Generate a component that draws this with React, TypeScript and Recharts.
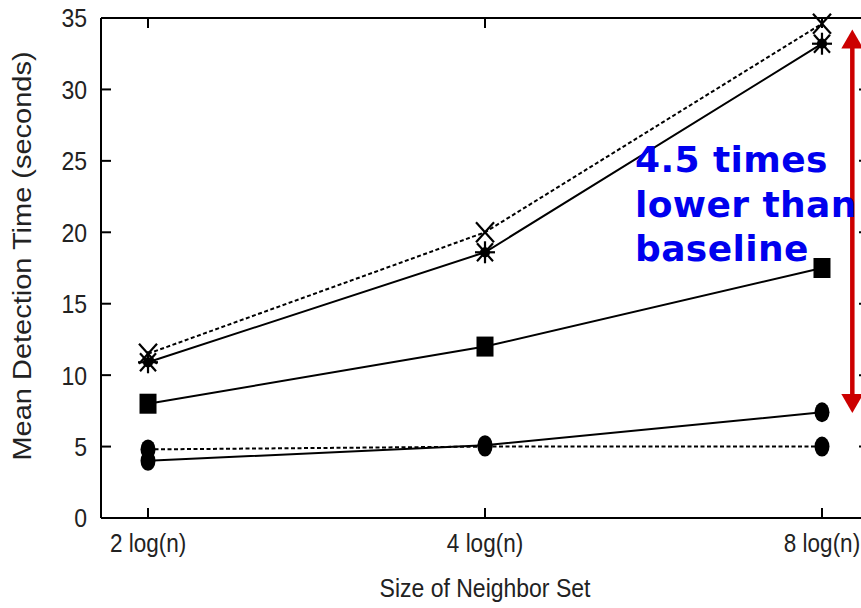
import { LineChart, Line, XAxis, YAxis, ReferenceLine } from "recharts"

const categories = ["2 log(n)", "4 log(n)", "8 log(n)"]
const baselineCross = [11.5, 20.0, 34.6]
const baselineStar = [10.9, 18.6, 33.2]
const squareSeries = [8.0, 12.0, 17.5]
const circleSolid = [4.0, 5.1, 7.4]
const circleDotted = [4.8, 5.0, 5.0]
const yTicks = [0, 5, 10, 15, 20, 25, 30, 35]
const arrowSpan = { x: 2.09, top: 34.2, bottom: 7.35 }
const note = ["4.5 times", "lower than", "baseline"]

const data = categories.map((c, i) => ({
  x: i,
  name: c,
  cross: baselineCross[i],
  star: baselineStar[i],
  square: squareSeries[i],
  circA: circleSolid[i],
  circB: circleDotted[i],
}))

const FONT = "'Liberation Sans', Arial, sans-serif"
const INK = "#222"
const X_DOMAIN = [-0.1395, 2.1395]
const W = 880
const H = 608
const M = { top: 18, right: 11, bottom: 0, left: 0 }
const Y_W = 101
const X_H = 90
const PLOT_TOP = M.top
const PLOT_RIGHT = W - M.right
const TICK = 10
// the source figure's text is a little stretched vertically
const STRETCH = 1.16

function XTick(p: any) {
  const { x, y, payload } = p
  const axisY = y - 6 - 12
  return (
    <g>
      <line x1={x} y1={axisY} x2={x} y2={axisY - TICK} stroke="#000" strokeWidth={2} />
      <line x1={x} y1={PLOT_TOP} x2={x} y2={PLOT_TOP + TICK} stroke="#000" strokeWidth={2} />
      <text
        transform={`translate(${x} ${y + 16}) scale(1 ${STRETCH})`}
        textAnchor="middle"
        fontSize={22.5}
        fill={INK}
        fontFamily={FONT}
      >
        {categories[payload.value]}
      </text>
    </g>
  )
}

function YTick(p: any) {
  const { x, y, payload } = p
  const axisX = x + 6 + 8
  return (
    <g>
      <line x1={axisX} y1={y} x2={axisX + TICK} y2={y} stroke="#000" strokeWidth={2} />
      <line x1={PLOT_RIGHT} y1={y} x2={PLOT_RIGHT - TICK} y2={y} stroke="#000" strokeWidth={2} />
      <text
        transform={`translate(${x} ${y}) scale(1 ${STRETCH})`}
        dy="0.355em"
        textAnchor="end"
        fontSize={23}
        fill={INK}
        fontFamily={FONT}
      >
        {payload.value}
      </text>
    </g>
  )
}

function CrossDot(p: any) {
  const { cx, cy } = p
  return (
    <g key={`x-${p.index}`} stroke="#000" strokeWidth={2.2}>
      <line x1={cx - 9} y1={cy - 10} x2={cx + 9} y2={cy + 10} />
      <line x1={cx - 9} y1={cy + 10} x2={cx + 9} y2={cy - 10} />
    </g>
  )
}

function StarDot(p: any) {
  const { cx, cy } = p
  return (
    <g key={`s-${p.index}`} stroke="#000" strokeWidth={2.2}>
      <line x1={cx} y1={cy - 11} x2={cx} y2={cy + 11} />
      <line x1={cx - 10} y1={cy} x2={cx + 10} y2={cy} />
      <line x1={cx - 8} y1={cy - 9} x2={cx + 8} y2={cy + 9} />
      <line x1={cx - 8} y1={cy + 9} x2={cx + 8} y2={cy - 9} />
      <circle cx={cx} cy={cy} r={4} fill="#000" />
    </g>
  )
}

function SquareDot(p: any) {
  const { cx, cy } = p
  return <rect key={`q-${p.index}`} x={cx - 8.5} y={cy - 10} width={17} height={20} fill="#000" />
}

function CircleDot(p: any) {
  const { cx, cy } = p
  return <ellipse key={`c-${p.index}`} cx={cx} cy={cy} rx={7.5} ry={10} fill="#000" />
}

function Arrow(p: any) {
  const { x1, y1, y2 } = p
  const x = x1
  const top = Math.min(y1, y2)
  const bot = Math.max(y1, y2)
  const c = "#cc0000"
  return (
    <g>
      <line x1={x} y1={top + 15} x2={x} y2={bot - 15} stroke={c} strokeWidth={4.5} />
      <polygon points={`${x},${top} ${x - 11},${top + 19} ${x + 11},${top + 19}`} fill={c} />
      <polygon points={`${x},${bot} ${x - 11},${bot - 19} ${x + 11},${bot - 19}`} fill={c} />
    </g>
  )
}

export default function App() {
  return (
    <div style={{ position: "absolute", left: 0, top: 0, width: 861, height: 608, overflow: "hidden", background: "#fff" }}>
      <LineChart width={W} height={H} data={data} margin={M}>
        <XAxis
          xAxisId="main"
          dataKey="x"
          type="number"
          domain={X_DOMAIN}
          ticks={[0, 1, 2]}
          height={X_H}
          axisLine={{ stroke: "#000", strokeWidth: 2 }}
          tickLine={false}
          tickSize={6}
          tickMargin={12}
          tick={XTick}
          label={{
            content: ({ viewBox }: any) => (
              <text
                transform={`translate(${viewBox.x + viewBox.width / 2} 597) scale(1 ${STRETCH})`}
                textAnchor="middle"
                fontSize={23}
                fill={INK}
                fontFamily={FONT}
              >
                Size of Neighbor Set
              </text>
            ),
          }}
        />
        <YAxis
          yAxisId="main"
          type="number"
          domain={[0, 35]}
          ticks={yTicks}
          width={Y_W}
          axisLine={{ stroke: "#000", strokeWidth: 2 }}
          tickLine={false}
          tickSize={6}
          tickMargin={8}
          tick={YTick}
          label={{
            content: ({ viewBox }: any) => {
              const cx = 22
              const cy = viewBox.y + viewBox.height / 2 - 12
              return (
                <text
                  transform={`translate(${cx} ${cy}) rotate(-90) scale(${STRETCH} 1)`}
                  textAnchor="middle"
                  dominantBaseline="central"
                  fontSize={25}
                  fill={INK}
                  fontFamily={FONT}
                >
                  Mean Detection Time (seconds)
                </text>
              )
            },
          }}
        />
        <ReferenceLine xAxisId="main" yAxisId="main" y={35} stroke="#000" strokeWidth={2} ifOverflow="visible" />

        <Line xAxisId="main" yAxisId="main" dataKey="circB" stroke="#000" strokeWidth={2} strokeDasharray="4 2.5" dot={CircleDot} isAnimationActive={false} />
        <Line xAxisId="main" yAxisId="main" dataKey="circA" stroke="#000" strokeWidth={2} dot={CircleDot} isAnimationActive={false} />
        <Line xAxisId="main" yAxisId="main" dataKey="square" stroke="#000" strokeWidth={2} dot={SquareDot} isAnimationActive={false} />
        <Line xAxisId="main" yAxisId="main" dataKey="star" stroke="#000" strokeWidth={2} dot={StarDot} isAnimationActive={false} />
        <Line xAxisId="main" yAxisId="main" dataKey="cross" stroke="#000" strokeWidth={2} strokeDasharray="4 2.5" dot={CrossDot} isAnimationActive={false} />

        <ReferenceLine
          xAxisId="main"
          yAxisId="main"
          segment={[
            { x: arrowSpan.x, y: arrowSpan.top },
            { x: arrowSpan.x, y: arrowSpan.bottom },
          ]}
          ifOverflow="visible"
          shape={Arrow}
        />
      </LineChart>
      <div
        style={{
          position: "absolute",
          left: 635,
          top: 138,
          fontFamily: "'DejaVu Sans', Verdana, sans-serif",
          fontWeight: "bold",
          fontSize: 36,
          letterSpacing: "0.4px",
          lineHeight: "44.5px",
          color: "#0000ee",
          whiteSpace: "nowrap",
        }}
      >
        {note.map((t) => (
          <div key={t}>{t}</div>
        ))}
      </div>
    </div>
  )
}
